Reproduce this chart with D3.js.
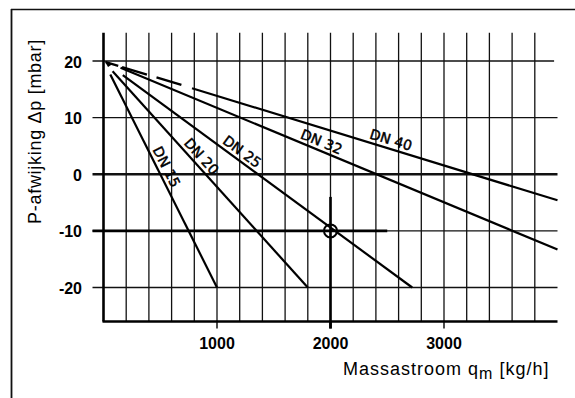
<!DOCTYPE html>
<html>
<head>
<meta charset="utf-8">
<script src="https://cdn.jsdelivr.net/npm/d3@7"></script>
<style>
  html, body { margin: 0; padding: 0; background: #fff; }
  svg { display: block; }
</style>
</head>
<body>
<svg id="chart" width="575" height="398"></svg>
<script>
// ---- data ----
const seriesNames = ["DN 15", "DN 20", "DN 25", "DN 32", "DN 40"];
const startX = [60, 80, 170, 150, 780];
const startY = [17.6, 18.2, 17.5, 18.8, 15.2];
const endX   = [1000, 1800, 2720, 4000, 4000];
const endY   = [-20, -20, -20, -13.3, -4.6];
const labelX = [485, 805, 1175, 1890, 2510];
// dashed lead-in of DN 40 from the common origin
const dashStart = [20, 19.8];
const dashEnd = [780, 15.2];
// example operating point
const markX = 2000, markY = -10;

const xTicks = [1000, 2000, 3000];
const xTickLabels = ["1000", "2000", "3000"];
const yTicks = [20, 10, 0, -10, -20];
const yTickLabels = ["20", "10", "0", "-10", "-20"];
const xGrid = d3.range(200, 3801, 200);
const yTitle = "P-afwijking Δp [mbar]";
const xTitleMain = "Massastroom q";
const xTitleSub = "m";
const xTitleEnd = " [kg/h]";

// ---- scales ----
const x = d3.scaleLinear().domain([0, 4000]).range([103.5, 557.5]);
const y = d3.scaleLinear().domain([20, -20]).range([61, 287.5]);
const yTop = 25, yBot = -26;

const svg = d3.select("#chart");

// frame (top and left only)
svg.append("line").attr("x1", 11).attr("x2", 575).attr("y1", 9.5).attr("y2", 9.5)
  .attr("stroke", "#111").attr("stroke-width", 1.6);
svg.append("line").attr("x1", 11.5).attr("x2", 11.5).attr("y1", 9).attr("y2", 398)
  .attr("stroke", "#111").attr("stroke-width", 1.8);

const g = svg.append("g");

// vertical grid
g.selectAll("line.vg").data(xGrid).join("line").attr("class", "vg")
  .attr("x1", d => x(d)).attr("x2", d => x(d))
  .attr("y1", y(yTop)).attr("y2", y(yBot))
  .attr("stroke", "#111").attr("stroke-width", 1.3);

// horizontal grid (extend left past axis as ticks)
g.selectAll("line.hg").data(yTicks).join("line").attr("class", "hg")
  .attr("x1", x(0) - 11).attr("x2", d => d === 20 ? x(3970) : x(4000))
  .attr("y1", d => y(d)).attr("y2", d => y(d))
  .attr("stroke", "#111").attr("stroke-width", d => d === 0 ? 2.6 : 1.3);

// thick -10 reading line and thick 2000 reading line
g.append("line").attr("x1", x(0) - 11).attr("x2", x(2500))
  .attr("y1", y(markY)).attr("y2", y(markY))
  .attr("stroke", "#000").attr("stroke-width", 2.6);
g.append("line").attr("x1", x(markX)).attr("x2", x(markX))
  .attr("y1", y(-4)).attr("y2", y(yBot) + 7)
  .attr("stroke", "#000").attr("stroke-width", 2.6);

// axes lines
g.append("line").attr("x1", x(0)).attr("x2", x(0)).attr("y1", y(yTop)).attr("y2", y(yBot))
  .attr("stroke", "#000").attr("stroke-width", 2.6);
g.append("line").attr("x1", x(0) - 1).attr("x2", x(4000)).attr("y1", y(yBot)).attr("y2", y(yBot))
  .attr("stroke", "#000").attr("stroke-width", 2.6);

// x tick marks below axis
g.selectAll("line.xt").data(xTicks).join("line").attr("class", "xt")
  .attr("x1", d => x(d)).attr("x2", d => x(d))
  .attr("y1", y(yBot)).attr("y2", y(yBot) + 7)
  .attr("stroke", "#000").attr("stroke-width", d => d === markX ? 2.6 : 1.4);

// tick labels
g.selectAll("text.yl").data(yTicks).join("text").attr("class", "yl")
  .attr("x", 82).attr("y", d => y(d) + 6.5)
  .attr("text-anchor", "end")
  .attr("font-family", "Liberation Sans, Arial, sans-serif")
  .attr("font-weight", "bold").attr("font-size", 16)
  .text((d, i) => yTickLabels[i]);
g.selectAll("text.xl").data(xTicks).join("text").attr("class", "xl")
  .attr("x", d => x(d)).attr("y", 348.5)
  .attr("text-anchor", "middle")
  .attr("font-family", "Liberation Sans, Arial, sans-serif")
  .attr("font-weight", "bold").attr("font-size", 16)
  .text((d, i) => xTickLabels[i]);

// series lines
seriesNames.forEach((name, i) => {
  g.append("line")
    .attr("x1", x(startX[i])).attr("y1", y(startY[i]))
    .attr("x2", x(endX[i])).attr("y2", y(endY[i]))
    .attr("stroke", "#000").attr("stroke-width", 2.2);
});
// dashed lead-in
g.append("line")
  .attr("x1", x(dashStart[0])).attr("y1", y(dashStart[1]))
  .attr("x2", x(dashEnd[0])).attr("y2", y(dashEnd[1]))
  .attr("stroke", "#000").attr("stroke-width", 2.4)
  .attr("stroke-dasharray", "13,4,26,10,26,12");
// arrow tip at origin
g.append("path")
  .attr("d", `M${x(0)+1},${y(20)} L${x(80)},${y(20)+3} L${x(40)},${y(20)+6} Z`)
  .attr("fill", "#000");

// series labels along lines
seriesNames.forEach((name, i) => {
  const ang = Math.atan2(y(endY[i]) - y(startY[i]), x(endX[i]) - x(startX[i])) * 180 / Math.PI;
  const t = (labelX[i] - startX[i]) / (endX[i] - startX[i]);
  const ly = startY[i] + t * (endY[i] - startY[i]);
  g.append("text")
    .attr("transform", `translate(${x(labelX[i])},${y(ly)}) rotate(${ang})`)
    .attr("dy", -4)
    .attr("text-anchor", "middle")
    .attr("font-family", "DejaVu Sans, sans-serif")
    .attr("font-size", 14)
    .attr("stroke", "#000").attr("stroke-width", 0.45)
    .text(name);
});

// marker circle
g.append("circle").attr("cx", x(markX)).attr("cy", y(markY)).attr("r", 6.5)
  .attr("fill", "none").attr("stroke", "#000").attr("stroke-width", 2);

// axis titles
svg.append("text")
  .attr("transform", "translate(41,131.5) rotate(-90)")
  .attr("text-anchor", "middle")
  .attr("font-family", "Liberation Sans, Arial, sans-serif")
  .attr("font-size", 18).attr("letter-spacing", 0.7)
  .text(yTitle);

const xt = svg.append("text")
  .attr("x", 343).attr("y", 375)
  .attr("font-family", "Liberation Sans, Arial, sans-serif")
  .attr("font-size", 18).attr("letter-spacing", 1.0);
xt.append("tspan").text(xTitleMain);
xt.append("tspan").attr("dy", 4).attr("font-size", 16).text(xTitleSub);
xt.append("tspan").attr("dy", -4).text(xTitleEnd);
</script>
</body>
</html>
